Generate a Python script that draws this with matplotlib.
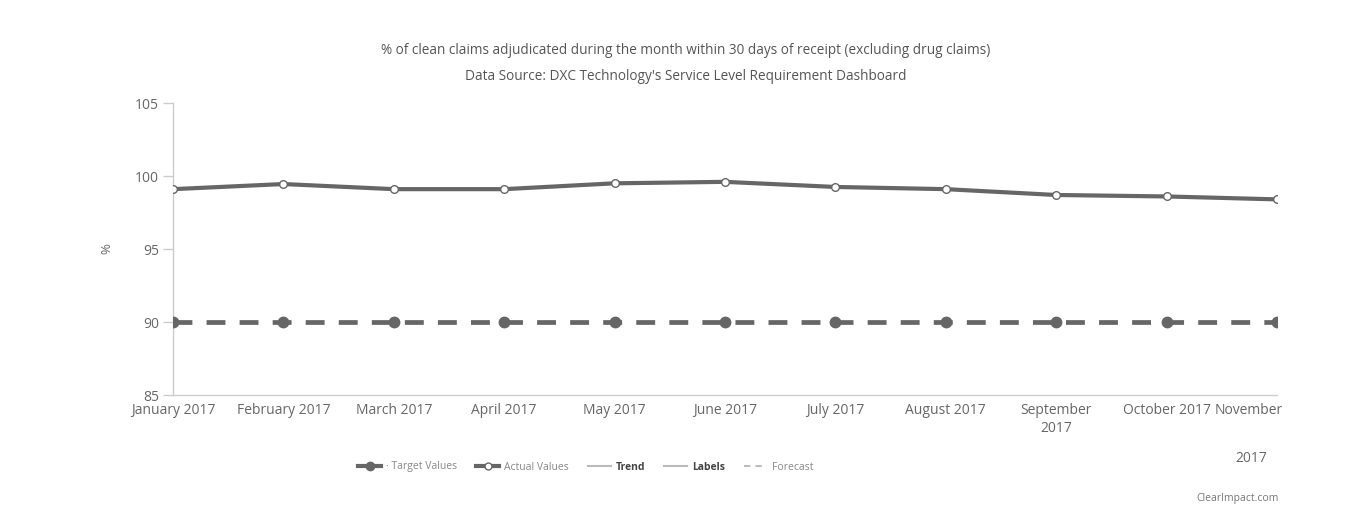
import matplotlib
matplotlib.use("Agg")
import matplotlib.pyplot as plt
from matplotlib.lines import Line2D
import matplotlib.transforms as mtransforms

plt.rcParams['font.family'] = ['Open Sans', 'DejaVu Sans']

months = ["January 2017", "February 2017", "March 2017", "April 2017", "May 2017",
          "June 2017", "July 2017", "August 2017", "September\n2017",
          "October 2017", "November"]
actual_values = [99.1, 99.45, 99.1, 99.1, 99.5, 99.6, 99.25, 99.1, 98.7, 98.6, 98.4]
target_values = [90, 90, 90, 90, 90, 90, 90, 90, 90, 90, 90]
y_ticks = [85, 90, 95, 100, 105]

title = "% of clean claims adjudicated during the month within 30 days of receipt (excluding drug claims)"
subtitle = "Data Source: DXC Technology's Service Level Requirement Dashboard"

line_color = "#666666"
text_color = "#666666"
axis_color = "#cccccc"

fig = plt.figure(figsize=(13.72, 5.31), dpi=100)
ax = fig.add_axes([0.1261, 0.2561, 0.8046, 0.5499])

x = list(range(len(months)))

ax.plot(x, target_values, color=line_color, lw=3.4, marker='o', markersize=7.5,
        markerfacecolor=line_color, markeredgecolor=line_color,
        dashes=(4.0, 3.0), zorder=3)
ax.plot(x, actual_values, color=line_color, lw=3.0, marker='o', markersize=5.5,
        markerfacecolor='white', markeredgecolor=line_color, markeredgewidth=1.0,
        zorder=4)

ax.set_xlim(0, len(months) - 1)
ax.set_ylim(85, 105)
ax.set_yticks(y_ticks)
ax.set_xticks(x)
ax.set_xticklabels(months)

for side in ('top', 'right'):
    ax.spines[side].set_visible(False)
for side in ('left', 'bottom'):
    ax.spines[side].set_color(axis_color)
    ax.spines[side].set_linewidth(1.0)

ax.tick_params(axis='y', length=7, width=1, color=axis_color, labelcolor=text_color,
               labelsize=10, pad=3)
ax.tick_params(axis='x', length=0, labelcolor=text_color, labelsize=10, pad=6)

# keep the last month's label inside the plot edge
last = ax.get_xticklabels()[-1]
last.set_ha('right')
last.set_transform(last.get_transform() +
                   mtransforms.ScaledTranslation(6 / 100, 0, fig.dpi_scale_trans))
fig.text(1251 / 1372, 1 - 458 / 531, "2017", ha='center', va='center',
         fontsize=10, color=text_color)

ax.set_ylabel("%", color=text_color, fontsize=9.5)
ax.yaxis.set_label_coords(-0.054, 0.5)

fig.text(0.5, 1 - 50 / 531, title, ha='center', va='center', fontsize=9.8,
         color="#555555")
fig.text(0.5, 1 - 77 / 531, subtitle, ha='center', va='center', fontsize=9.8,
         color="#555555")

handles = [
    Line2D([], [], color=line_color, lw=3, marker='o', markersize=6,
           markevery=[1]),
    Line2D([], [], color=line_color, lw=3, marker='o', markersize=5,
           markerfacecolor='white', markeredgecolor=line_color),
    Line2D([], [], color="#bbbbbb", lw=1.5),
    Line2D([], [], color="#bbbbbb", lw=1.5),
    Line2D([], [], color="#bbbbbb", lw=1.5, dashes=(3, 2.5)),
]
labels = ["\u00b7 Target Values", "Actual Values", "Trend", "Labels", "Forecast"]
leg = fig.legend(handles, labels, loc='center', bbox_to_anchor=(586 / 1372, 1 - 467 / 531),
                 ncol=5, frameon=False, fontsize=7.5, handlelength=2.2,
                 handletextpad=0.5, columnspacing=1.8, numpoints=1)
for t in leg.get_texts():
    t.set_color("#888888")
for t in leg.get_texts()[2:4]:
    t.set_color("#444444")
    t.set_fontweight('bold')

fig.text(1279 / 1372, 1 - 499 / 531, "ClearImpact.com", ha='right', va='center',
         fontsize=7.5, color="#777777")

fig.savefig("out.png", dpi=100, facecolor='white')
